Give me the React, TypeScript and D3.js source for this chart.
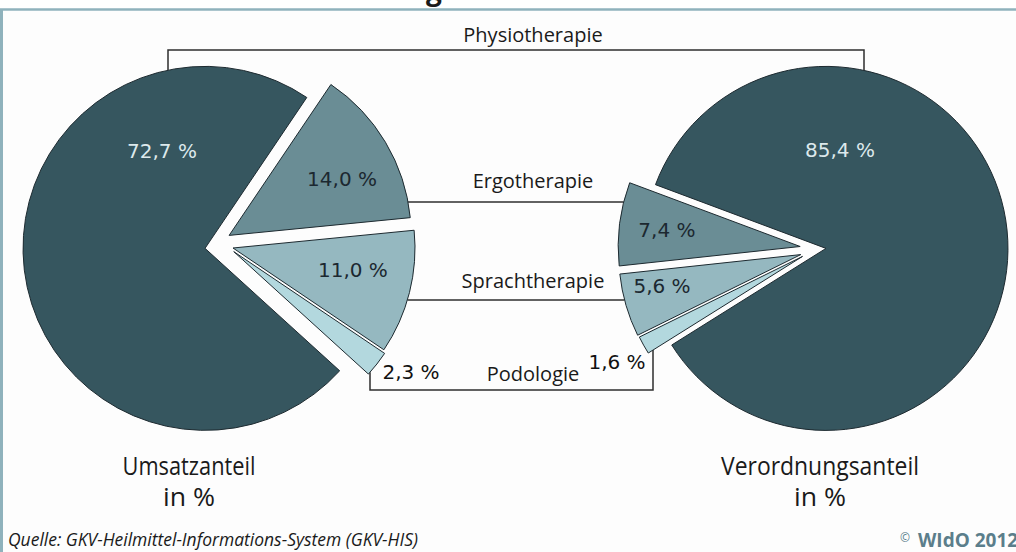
import React from 'react';
import * as d3 from 'd3';

// ---- data ----
const categories = ['Physiotherapie', 'Ergotherapie', 'Sprachtherapie', 'Podologie'];
const umsatzValues = [72.7, 14.0, 11.0, 2.3];
const verordnungValues = [85.4, 7.4, 5.6, 1.6];
const pieTitles = [['Umsatzanteil', 'in %'], ['Verordnungsanteil', 'in %']];
const sourceText = 'Quelle: GKV-Heilmittel-Informations-System (GKV-HIS)';
const copyrightText = 'WIdO 2012';
const titleFragment = 'g';

// ---- styles / layout ----
const W = 1016, H = 552, R = 182;
const deg = Math.PI / 180;
const sliceColors = ['#36565f', '#6a8d95', '#95b8c0', '#b3d8de'];
const labelColors = ['#dde9ec', '#1c2830', '#1c2830', '#1c2830'];
const lineColor = '#2e2e2e';
const borderColor = '#8fb2bc';
const catFont = '"Open Sans", "Noto Sans", sans-serif';
const pctFont = '"DejaVu Sans", Verdana, sans-serif';

const locale = d3.formatLocale({ decimal: ',', thousands: '.', grouping: [3], currency: ['', ' €'] });
const fmt1 = locale.format('.1f');
const fmtPct = (v: number) => fmt1(v) + ' %';

const pieSpecs = [
  {
    values: umsatzValues,
    order: [1, 2, 3, 0],
    start: 34,
    center: [208, 248],
    explode: { 0: { d: 3 }, 1: { d: 24.6 }, 2: { d: 25, a: 90 }, 3: { d: 26, a: 98 } } as any,
    labels: { 0: { a: 336.2, r: 106.7 }, 1: { a: 63.5, r: 126.2 }, 2: { a: 100.3, r: 121.9 }, 3: { a: 124.1, r: 214.1 } } as any,
    titleX: 189,
    titleW: [133, 52],
  },
  {
    values: verordnungValues,
    order: [3, 2, 1, 0],
    start: 290.5 - (360 * (100 - verordnungValues[0])) / 100,
    center: [820, 249],
    explode: { 0: { d: 6 }, 1: { d: 20 }, 2: { d: 20 }, 3: { d: 19, a: 247 } } as any,
    labels: { 0: { a: 8.1, r: 99.7 }, 1: { a: 277.2, r: 134.3 }, 2: { a: 257.4, r: 142.2 }, 3: { a: 240.4, r: 213.3 } } as any,
    titleX: 820,
    titleW: [198, 52],
  },
];

function slicePoly(apex: number[], a0: number, a1: number, r: number) {
  const pts: number[][] = [apex];
  const n = 80;
  for (let i = 0; i <= n; i++) {
    const a = a0 + ((a1 - a0) * i) / n;
    pts.push([apex[0] + r * Math.sin(a), apex[1] - r * Math.cos(a)]);
  }
  return pts;
}

// crossings of polygon with horizontal line (axis 'y') or vertical line (axis 'x')
function crossings(poly: number[][], axis: 'x' | 'y', v: number) {
  const out: number[] = [];
  for (let i = 0; i < poly.length; i++) {
    const p = poly[i], q = poly[(i + 1) % poly.length];
    const pa = axis === 'y' ? p[1] : p[0];
    const qa = axis === 'y' ? q[1] : q[0];
    if ((pa - v) * (qa - v) <= 0 && pa !== qa) {
      const t = (v - pa) / (qa - pa);
      out.push(axis === 'y' ? p[0] + t * (q[0] - p[0]) : p[1] + t * (q[1] - p[1]));
    }
  }
  return out;
}

function buildPie(spec: any) {
  const data = spec.order.map((i: number) => ({ i, v: spec.values[i] }));
  const pie = d3
    .pie<any>()
    .sort(null)
    .value((d: any) => d.v)
    .startAngle(spec.start * deg)
    .endAngle(spec.start * deg + 2 * Math.PI);
  return pie(data).map((p: any) => {
    const i = p.data.i;
    const ex = spec.explode[i];
    const mid = (p.startAngle + p.endAngle) / 2;
    const ea = ex.a != null ? ex.a * deg : mid;
    const apex = [spec.center[0] + ex.d * Math.sin(ea), spec.center[1] - ex.d * Math.cos(ea)];
    const poly = slicePoly(apex, p.startAngle, p.endAngle, R);
    const lab = spec.labels[i];
    const lp = [apex[0] + lab.r * Math.sin(lab.a * deg), apex[1] - lab.r * Math.cos(lab.a * deg)];
    return { p, i, apex, poly, lp };
  });
}

export default function App() {
  const arc = d3.arc<any>().innerRadius(0).outerRadius(R);
  const pies = pieSpecs.map(buildPie);
  const find = (k: number, i: number) => pies[k].find((s) => s.i === i)!;

  // connector geometry
  const physioY = 50;
  const physioXs = [168, 864];
  const physioTops = physioXs.map((x, k) => Math.min(...crossings(find(k, 0).poly, 'x', x)));
  const ergoY = 202;
  const sprachY = 300;
  const hLine = (i: number, y: number) => [
    Math.max(...crossings(find(0, i).poly, 'y', y)),
    Math.min(...crossings(find(1, i).poly, 'y', y)),
  ];
  const ergoX = hLine(1, ergoY);
  const sprachX = hLine(2, sprachY);
  const podoXs = [370, 653];
  const podoBottom = 390;
  const podoTops = podoXs.map((x, k) => Math.max(...crossings(find(k, 3).poly, 'x', x)));

  const catX = 533;
  const catBase = [42, 188, 288, 381];

  return (
    <svg width={W} height={H} style={{ position: 'absolute', left: 0, top: 0 }}>
      <rect x={0} y={0} width={W} height={H} fill="#ffffff" />
      <rect x={0} y={10} width={W} height={H - 10} fill="#fdfdfd" />
      <text x={434} y={0} textAnchor="middle" fontFamily={catFont} fontWeight={700} fontSize={28} fill="#1a1a1a">
        {titleFragment}
      </text>
      <line x1={0} x2={W} y1={9.5} y2={9.5} stroke={borderColor} strokeWidth={2.5} />
      <line x1={1.5} x2={1.5} y1={9} y2={H} stroke={borderColor} strokeWidth={3} />

      {/* connectors */}
      <g stroke={lineColor} strokeWidth={1.5} fill="none">
        <path d={`M${physioXs[0]},${physioTops[0]}V${physioY}H${physioXs[1]}V${physioTops[1]}`} />
        <line x1={ergoX[0]} x2={ergoX[1]} y1={ergoY} y2={ergoY} />
        <line x1={sprachX[0]} x2={sprachX[1]} y1={sprachY} y2={sprachY} />
        <path d={`M${podoXs[0]},${podoTops[0]}V${podoBottom}H${podoXs[1]}V${podoTops[1]}`} />
      </g>

      {/* pies */}
      {pies.map((slices, k) => (
        <g key={k}>
          {slices.map((s) => (
            <path
              key={s.i}
              d={arc(s.p) as string}
              transform={`translate(${s.apex[0]},${s.apex[1]})`}
              fill={sliceColors[s.i]}
              stroke="#1d2a30"
              strokeWidth={1}
              strokeLinejoin="round"
            />
          ))}
          {slices.map((s) => (
            <text
              key={'l' + s.i}
              x={s.lp[0]}
              y={s.lp[1] + 7.3}
              textAnchor="middle"
              fontFamily={pctFont}
              fontSize={20}
              fill={s.i === 3 ? '#111' : labelColors[s.i]}
            >
              {fmtPct(pieSpecs[k].values[s.i])}
            </text>
          ))}
        </g>
      ))}

      {/* category labels */}
      {categories.map((c, i) => (
        <text key={c} x={catX} y={catBase[i]} textAnchor="middle" fontFamily={catFont} fontSize={20} fill="#1a1a1a">
          {c}
        </text>
      ))}

      {/* pie titles */}
      {pieTitles.map((t, k) => (
        <g key={'t' + k} fontFamily={catFont} fontSize={25} fill="#1a1a1a">
          <text
            x={pieSpecs[k].titleX - pieSpecs[k].titleW[0] / 2}
            y={475}
            textLength={pieSpecs[k].titleW[0]}
            lengthAdjust="spacingAndGlyphs"
          >
            {t[0]}
          </text>
          <text
            x={pieSpecs[k].titleX - pieSpecs[k].titleW[1] / 2}
            y={506}
            textLength={pieSpecs[k].titleW[1]}
            lengthAdjust="spacingAndGlyphs"
          >
            {t[1]}
          </text>
        </g>
      ))}

      {/* footer */}
      <text x={8} y={546} fontFamily={catFont} fontStyle="italic" fontSize={18} fill="#1a1a1a" textLength={410} lengthAdjust="spacingAndGlyphs">
        {sourceText}
      </text>
      <text x={900} y={542} fontFamily={catFont} fontSize={12} fill="#5b7e8b">©</text>
      <text x={918} y={547} fontFamily={catFont} fontWeight={700} fontSize={19} fill="#5b7e8b">
        {copyrightText}
      </text>
    </svg>
  );
}
